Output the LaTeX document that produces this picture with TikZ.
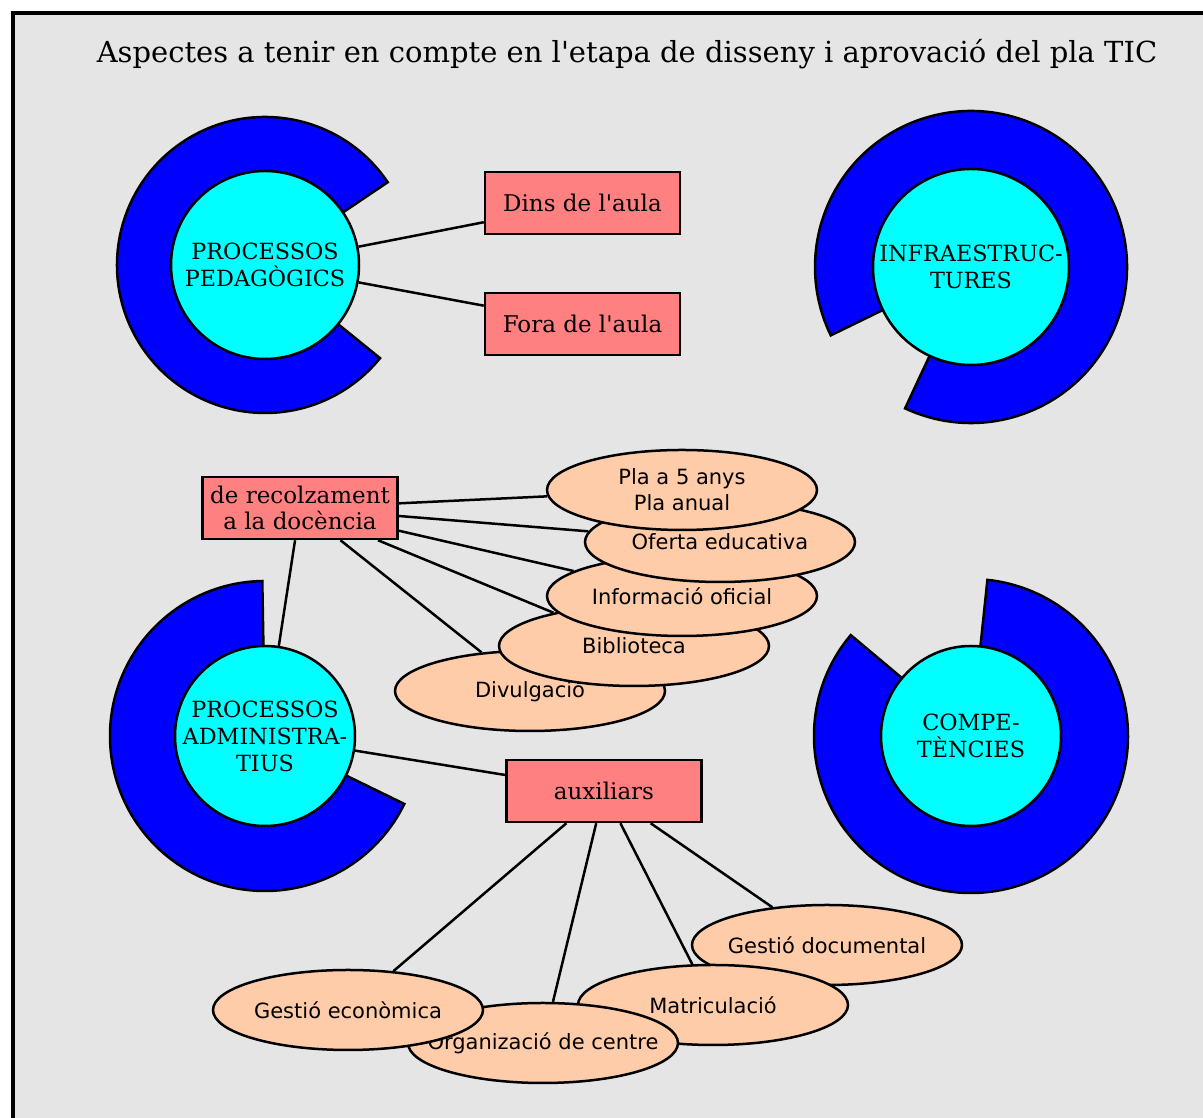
\documentclass[tikz,border=0pt]{standalone}
\usepackage{fontspec}
\newfontfamily\dvserif{DejaVu Serif}
\newfontfamily\dvsans{DejaVu Sans}
\usetikzlibrary{shapes,calc,backgrounds}

\definecolor{bggray}{RGB}{229,229,229}
\definecolor{ringblue}{RGB}{0,0,255}
\definecolor{hubcyan}{RGB}{0,255,255}
\definecolor{boxred}{RGB}{255,128,128}
\definecolor{leafpeach}{RGB}{255,204,170}

\begin{document}
\begin{tikzpicture}[x=1pt,y=1pt,line width=2.5pt,
		hub/.style={
			draw,circle,fill=hubcyan,inner sep=0pt,align=center,font=\dvserif\fontsize{22.3}{27}\selectfont
		},
		topicbox/.style={
			draw,rectangle,fill=boxred,minimum width=195pt,minimum height=62pt,inner sep=0pt,align=center,font=\dvserif\fontsize{23}{26}\selectfont
		},
		leaf/.style={
			draw,ellipse,fill=leafpeach,minimum width=270pt,minimum height=80pt,inner xsep=-40pt,inner ysep=0pt,align=center,font=\dvsans\fontsize{21}{26}\selectfont
		},
		ring/.style={
			draw,fill=ringblue
		}
		]
		\useasboundingbox (0,0) rectangle (1203,1118);
		\node[anchor=base,font=\dvserif\fontsize{29}{32}\selectfont] (title) at (627,1055) {Aspectes a tenir en compte en l'etapa de disseny i aprovació del pla TIC};
		
		% hubs
		\node[hub,minimum size=188pt] (ped) at (265,853) {PROCESSOS\\PEDAGÒGICS};
		\node[hub,minimum size=196pt] (infra) at (971,851) {INFRAESTRUC-\\TURES};
		\node[hub,minimum size=180pt] (admin) at (265,382) {PROCESSOS\\ADMINISTRA-\\TIUS};
		\node[hub,minimum size=180pt] (comp) at (971,382) {COMPE-\\TÈNCIES};
		
		% boxes
		\node[topicbox] (dins) at (582.5,915) {Dins de l'aula};
		\node[topicbox] (fora) at (582.5,794) {Fora de l'aula};
		\node[topicbox] (recolz) at (300,610) {de recolzament\\a la docència};
		\node[topicbox] (aux) at (604,327) {auxiliars};
		
		% leaves of recolz (lowest first)
		\node[leaf] (divul) at (530,427) {Divulgació};
		\node[leaf] (biblio) at (634,472) {Biblioteca};
		\node[leaf] (info) at (682,522) {Informació oficial};
		\node[leaf] (oferta) at (720,576) {Oferta educativa};
		\node[leaf] (pla) at (682,628) {Pla a 5 anys\\Pla anual};
		
		% leaves of aux
		\node[leaf] (docum) at (827,173) {Gestió documental};
		\node[leaf] (matric) at (713,113) {Matriculació};
		\node[leaf] (organ) at (543,75) {Organizació de centre};
		\node[leaf] (econ) at (348,108) {Gestió econòmica};
		
		\begin{scope}[on background layer]
		\begin{scope}[line width=2.5pt]
		% frame
		\fill[bggray] (13,0) rectangle (1203,1104.5);
		\draw[line width=4pt] (13,0) -- (13,1104.5) -- (1203,1104.5);
		
		% rings
		\filldraw[ring] (ped.center) -- ++(34:148) arc[start angle=34,end angle=321,radius=148] -- cycle;
		\filldraw[ring] (infra.center) -- ++(245:156) arc[start angle=245,end angle=566,radius=156] -- cycle;
		\filldraw[ring] (admin.center) -- ++(91:155) arc[start angle=91,end angle=334,radius=155] -- cycle;
		\filldraw[ring] (comp.center) -- ++(140:157) arc[start angle=140,end angle=444,radius=157] -- cycle;
		
		% links
		\draw (ped) -- (dins);
		\draw (ped) -- (fora);
		\draw (recolz) -- (admin);
		\draw (admin) -- (aux);
		\draw (recolz) -- (pla);
		\draw (recolz) -- (oferta);
		\draw (recolz) -- (info);
		\draw (recolz) -- (biblio);
		\draw (recolz) -- (divul);
		\draw (aux) -- (econ);
		\draw (aux) -- (organ);
		\draw (aux) -- (matric);
		\draw (aux) -- (docum);
		\end{scope}
		\end{scope}
\end{tikzpicture}
\end{document}
